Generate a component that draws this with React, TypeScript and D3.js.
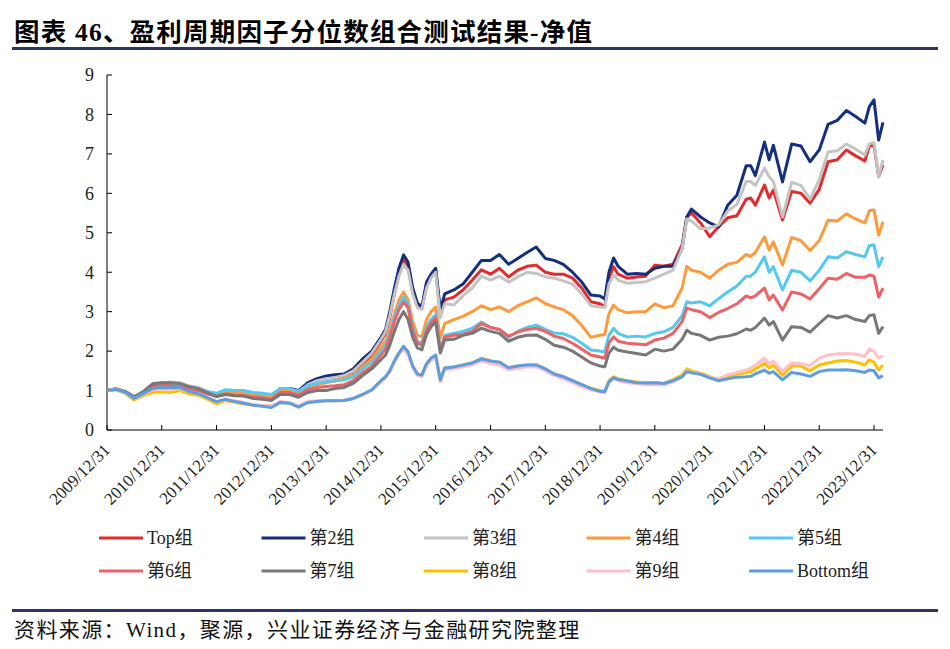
import React from 'react';
import * as d3 from 'd3';

// month keys (month-end values)
const months = ["2009-12","2010-02","2010-04","2010-06","2010-08","2010-10","2010-12","2011-02","2011-04","2011-06","2011-08","2011-10","2011-12","2012-02","2012-04","2012-06","2012-08","2012-10","2012-12","2013-02","2013-04","2013-06","2013-08","2013-10","2013-12","2014-02","2014-04","2014-06","2014-08","2014-10","2014-12","2015-01","2015-02","2015-03","2015-04","2015-05","2015-06","2015-07","2015-08","2015-09","2015-10","2015-11","2015-12","2016-01","2016-02","2016-04","2016-06","2016-08","2016-10","2016-12","2017-02","2017-04","2017-06","2017-08","2017-10","2017-12","2018-02","2018-04","2018-06","2018-08","2018-10","2018-12","2019-01","2019-02","2019-03","2019-04","2019-06","2019-08","2019-10","2019-12","2020-02","2020-04","2020-06","2020-07","2020-08","2020-10","2020-12","2021-02","2021-04","2021-06","2021-08","2021-09","2021-10","2021-12","2022-01","2022-02","2022-04","2022-06","2022-08","2022-10","2022-12","2023-02","2023-04","2023-06","2023-08","2023-10","2023-11","2023-12","2024-01","2024-02"];

const top = [1.00,1.03,0.96,0.82,0.95,1.13,1.15,1.15,1.12,1.04,1.01,0.93,0.88,0.95,0.92,0.90,0.86,0.85,0.82,1.00,1.00,0.93,1.10,1.18,1.22,1.25,1.32,1.42,1.65,1.90,2.25,
  2.45,2.85,3.45,3.95,4.30,4.15,3.50,3.15,3.08,3.65,3.90,4.05,
  2.95,3.30,3.37,3.55,3.80,4.06,3.95,
  4.10,3.88,4.05,4.15,4.18,4.00,
  3.95,3.95,3.85,3.60,3.25,3.20,
  3.12,3.85,4.14,3.95,3.85,3.88,3.90,4.18,
  4.15,4.20,4.70,5.40,5.50,5.25,4.90,
  5.15,5.38,5.43,5.85,5.88,5.70,6.21,
  5.88,6.08,5.32,6.05,6.00,5.75,6.10,
  6.80,6.85,7.10,6.95,6.82,7.20,7.22,
  6.42,6.72];
const g2 = [1.00,1.04,0.97,0.82,0.96,1.15,1.16,1.15,1.12,1.05,1.02,0.95,0.90,0.98,0.95,0.95,0.90,0.90,0.85,1.05,1.05,1.00,1.20,1.30,1.37,1.40,1.42,1.55,1.80,2.00,2.35,
  2.55,3.00,3.60,4.10,4.44,4.25,3.60,3.22,3.12,3.75,3.95,4.10,
  3.04,3.45,3.55,3.70,4.00,4.30,4.30,
  4.45,4.20,4.35,4.50,4.64,4.35,
  4.30,4.20,4.00,3.75,3.42,3.40,
  3.32,4.00,4.36,4.15,3.95,3.97,3.95,4.10,
  4.15,4.15,4.60,5.40,5.60,5.40,5.25,
  5.15,5.70,5.95,6.70,6.70,6.45,7.30,
  6.85,7.22,6.29,7.25,7.20,6.80,7.10,
  7.75,7.85,8.10,7.95,7.78,8.20,8.37,
  7.35,7.80];
const g3 = [1.00,1.04,0.98,0.84,0.98,1.17,1.20,1.22,1.20,1.12,1.08,0.98,0.90,0.98,0.97,0.95,0.90,0.90,0.85,1.02,1.03,0.98,1.15,1.25,1.30,1.33,1.38,1.50,1.72,1.95,2.30,
  2.50,2.90,3.45,3.90,4.20,4.05,3.45,3.10,3.05,3.60,3.85,4.00,
  2.85,3.20,3.17,3.40,3.60,3.90,3.80,
  3.90,3.75,3.88,4.00,3.97,3.88,
  3.85,3.78,3.70,3.45,3.15,3.12,
  3.10,3.70,3.93,3.80,3.72,3.74,3.76,3.85,
  3.95,4.05,4.60,5.35,5.30,5.10,5.12,
  5.20,5.55,5.72,6.30,6.30,6.20,6.64,
  6.42,6.30,5.40,6.28,6.20,5.85,6.35,
  7.05,7.08,7.25,7.12,6.97,7.26,7.28,
  6.42,6.85];
const g4 = [1.00,1.03,0.96,0.82,0.95,1.13,1.15,1.15,1.12,1.05,1.02,0.93,0.88,0.95,0.93,0.92,0.88,0.86,0.82,1.00,1.00,0.94,1.08,1.15,1.20,1.25,1.30,1.40,1.60,1.80,2.10,
  2.25,2.55,2.95,3.30,3.50,3.30,2.75,2.40,2.36,2.80,3.00,3.12,
  2.33,2.70,2.80,2.88,3.00,3.15,3.05,
  3.12,3.00,3.15,3.25,3.35,3.20,
  3.12,3.05,2.90,2.65,2.35,2.40,
  2.42,2.95,3.17,3.05,2.97,3.00,3.00,3.20,
  3.10,3.15,3.60,4.15,4.05,4.00,3.85,
  4.05,4.20,4.25,4.45,4.40,4.50,4.90,
  4.56,4.77,4.18,4.88,4.80,4.55,4.80,
  5.32,5.30,5.48,5.35,5.25,5.56,5.58,
  4.94,5.28];
const g5 = [1.00,1.04,0.98,0.84,0.97,1.14,1.14,1.12,1.12,1.08,1.05,0.98,0.93,1.02,1.00,1.00,0.95,0.93,0.90,1.05,1.05,0.98,1.12,1.18,1.22,1.25,1.27,1.35,1.55,1.72,2.00,
  2.15,2.45,2.85,3.15,3.37,3.20,2.60,2.25,2.20,2.60,2.80,2.92,
  2.03,2.40,2.45,2.50,2.58,2.74,2.60,
  2.55,2.35,2.50,2.60,2.66,2.55,
  2.46,2.44,2.35,2.20,2.03,2.00,
  1.98,2.40,2.58,2.45,2.36,2.38,2.36,2.45,
  2.49,2.60,2.90,3.25,3.22,3.25,3.15,
  3.33,3.50,3.65,3.90,3.90,4.00,4.39,
  4.00,4.14,3.55,4.05,4.00,3.78,4.05,
  4.39,4.36,4.52,4.45,4.39,4.68,4.69,
  4.14,4.39];
const g6 = [1.00,1.03,0.96,0.81,0.94,1.12,1.15,1.12,1.10,1.03,1.00,0.92,0.85,0.92,0.88,0.87,0.84,0.82,0.78,0.95,0.95,0.88,1.02,1.08,1.10,1.12,1.15,1.25,1.45,1.62,1.90,
  2.05,2.35,2.75,3.05,3.25,3.10,2.50,2.20,2.15,2.52,2.72,2.85,
  2.00,2.35,2.40,2.42,2.50,2.70,2.60,
  2.55,2.38,2.48,2.55,2.58,2.50,
  2.38,2.32,2.20,2.05,1.90,1.85,
  1.82,2.20,2.36,2.25,2.20,2.18,2.16,2.28,
  2.33,2.45,2.75,3.09,3.05,3.00,2.85,
  2.98,3.08,3.20,3.40,3.35,3.40,3.60,
  3.30,3.42,3.04,3.50,3.45,3.32,3.58,
  3.85,3.82,3.97,3.87,3.87,3.93,3.90,
  3.37,3.60];
const g7 = [1.00,1.04,0.98,0.84,0.97,1.17,1.20,1.20,1.18,1.10,1.05,0.95,0.85,0.90,0.87,0.86,0.80,0.78,0.75,0.90,0.90,0.83,0.95,1.00,1.00,1.05,1.08,1.18,1.38,1.55,1.78,
  1.90,2.15,2.50,2.80,3.00,2.80,2.35,2.08,2.03,2.42,2.62,2.74,
  1.95,2.28,2.30,2.40,2.45,2.58,2.50,
  2.45,2.25,2.35,2.40,2.41,2.30,
  2.15,2.10,2.00,1.85,1.70,1.62,
  1.60,1.95,2.10,2.02,1.98,1.94,1.90,2.05,
  2.00,2.05,2.30,2.53,2.45,2.40,2.28,
  2.35,2.38,2.44,2.56,2.53,2.60,2.84,
  2.66,2.75,2.28,2.62,2.60,2.48,2.70,
  2.90,2.84,2.90,2.80,2.75,2.90,2.92,
  2.45,2.62];
const g8 = [1.00,1.02,0.93,0.76,0.88,0.95,0.97,0.95,1.00,0.92,0.88,0.78,0.66,0.75,0.70,0.66,0.63,0.62,0.60,0.70,0.68,0.60,0.70,0.73,0.74,0.74,0.75,0.80,0.90,1.02,1.25,
  1.35,1.50,1.75,1.95,2.12,1.98,1.62,1.42,1.39,1.68,1.82,1.90,
  1.27,1.57,1.60,1.65,1.70,1.82,1.75,
  1.72,1.58,1.62,1.65,1.65,1.55,
  1.42,1.35,1.25,1.15,1.06,1.00,
  0.98,1.25,1.35,1.30,1.25,1.22,1.20,1.20,
  1.18,1.27,1.40,1.55,1.50,1.44,1.35,
  1.27,1.35,1.42,1.45,1.48,1.55,1.69,
  1.57,1.65,1.39,1.62,1.62,1.50,1.65,
  1.70,1.75,1.76,1.72,1.65,1.78,1.72,
  1.52,1.65];
const g9 = [1.00,1.03,0.95,0.79,0.92,1.02,1.05,1.03,1.05,0.98,0.92,0.82,0.72,0.78,0.74,0.70,0.65,0.62,0.60,0.72,0.70,0.62,0.72,0.74,0.75,0.75,0.76,0.80,0.90,1.00,1.22,
  1.32,1.47,1.72,1.92,2.05,1.92,1.57,1.38,1.35,1.62,1.76,1.84,
  1.22,1.52,1.55,1.60,1.65,1.75,1.68,
  1.65,1.52,1.56,1.60,1.60,1.50,
  1.38,1.30,1.20,1.10,1.02,0.97,
  0.95,1.20,1.30,1.25,1.20,1.17,1.15,1.15,
  1.14,1.22,1.35,1.50,1.45,1.42,1.33,
  1.30,1.40,1.46,1.52,1.57,1.65,1.82,
  1.69,1.75,1.48,1.70,1.68,1.63,1.82,
  1.90,1.93,1.94,1.92,1.87,2.05,2.00,
  1.82,1.88];
const bottom = [1.00,1.03,0.96,0.80,0.93,1.05,1.08,1.07,1.08,0.98,0.92,0.82,0.72,0.78,0.72,0.68,0.63,0.60,0.57,0.70,0.68,0.58,0.70,0.72,0.74,0.74,0.75,0.80,0.90,1.02,1.25,
  1.35,1.50,1.75,1.95,2.12,1.98,1.62,1.42,1.39,1.68,1.82,1.90,
  1.27,1.57,1.60,1.65,1.70,1.80,1.75,
  1.72,1.58,1.62,1.65,1.65,1.55,
  1.42,1.35,1.25,1.15,1.05,0.98,
  0.97,1.22,1.33,1.28,1.24,1.20,1.19,1.20,
  1.18,1.25,1.35,1.48,1.45,1.41,1.32,
  1.25,1.30,1.34,1.35,1.36,1.42,1.52,
  1.44,1.48,1.27,1.46,1.42,1.36,1.48,
  1.52,1.52,1.53,1.50,1.46,1.52,1.50,
  1.32,1.38];

const seriesNames = ["Top组","第2组","第3组","第4组","第5组","第6组","第7组","第8组","第9组","Bottom组"];
const seriesValues = [top, g2, g3, g4, g5, g6, g7, g8, g9, bottom];
const seriesColors = ["#E42A2A","#132F7E","#C4C4C4","#FF9A3C","#55C8F0","#EC6265","#787878","#FFC000","#FFBFCB","#5E9DE2"];

const yTicks = [0,1,2,3,4,5,6,7,8,9];
const tickYears = [2009,2010,2011,2012,2013,2014,2015,2016,2017,2018,2019,2020,2021,2022,2023];

const W = 950, H = 649;
const serif = '"Liberation Serif","Times New Roman","Noto Sans CJK SC",serif';
const mixed = '"Liberation Serif","Noto Sans CJK SC",serif';

const parseMonth = d3.timeParse('%Y-%m');
const monthEnd = (m: string) => d3.timeDay.offset(d3.timeMonth.offset(parseMonth(m) as Date, 1), -1);
const dates = months.map(monthEnd);

export default function App() {
  const x = d3.scaleTime()
    .domain([new Date(2009, 11, 31), new Date(2024, 1, 29)])
    .range([107, 883]);
  const y = d3.scaleLinear().domain([0, 9]).range([430, 75]);

  const line = d3.line<number>()
    .x((_, i) => x(dates[i]))
    .y(d => y(d));

  return (
    <svg width={W} height={H} style={{ position: 'absolute', left: 0, top: 0, background: '#fff' }}>
      <rect width={W} height={H} fill="#fff" />
      <text x={14} y={41} fontFamily={mixed} fontWeight="bold" fontSize={25.5} letterSpacing={1.2} fill="#000">
        图表 46、盈利周期因子分位数组合测试结果-净值
      </text>
      <rect x={12} y={47} width={926} height={3} fill="#2E3466" />

      {/* y axis */}
      <line x1={107} x2={107} y1={y(9)} y2={y(0)} stroke="#000" strokeWidth={1} />
      {yTicks.map(t => (
        <g key={t}>
          <line x1={107} x2={112} y1={y(t)} y2={y(t)} stroke="#000" />
          <text x={94} y={y(t)} dy="0.35em" textAnchor="end" fontFamily={serif} fontSize={18} fill="#222">{t}</text>
        </g>
      ))}

      {/* x axis */}
      <line x1={107} x2={883} y1={y(0)} y2={y(0)} stroke="#000" strokeWidth={1} />
      {tickYears.map(yr => {
        const tx = x(new Date(yr, 11, 31));
        return (
          <g key={yr}>
            <line x1={tx} x2={tx} y1={y(0)} y2={y(0) - 5} stroke="#000" />
            <text transform={`translate(${tx + 4},${y(0) + 21}) rotate(-45)`} textAnchor="end"
              fontFamily={serif} fontSize={17} fill="#222">{`${yr}/12/31`}</text>
          </g>
        );
      })}

      {/* series */}
      {seriesValues.map((vals, i) => (
        <path key={seriesNames[i]} d={line(vals) || ''} fill="none" stroke={seriesColors[i]}
          strokeWidth={3} strokeLinejoin="round" />
      ))}

      {/* legend */}
      {seriesNames.map((name, i) => {
        const lx = 99 + (i % 5) * 162.5;
        const ly = i < 5 ? 538 : 571;
        return (
          <g key={name}>
            <line x1={lx} x2={lx + 44} y1={ly} y2={ly} stroke={seriesColors[i]} strokeWidth={3} />
            <text x={lx + 48} y={ly} dy="0.35em" fontFamily={mixed} fontSize={18} fill="#222">{name}</text>
          </g>
        );
      })}

      <rect x={12} y={609} width={926} height={3} fill="#2E3466" />
      <text x={14} y={637} fontFamily={mixed} fontSize={21} letterSpacing={1.4} fill="#111">
        资料来源：Wind，聚源，兴业证券经济与金融研究院整理
      </text>
    </svg>
  );
}
